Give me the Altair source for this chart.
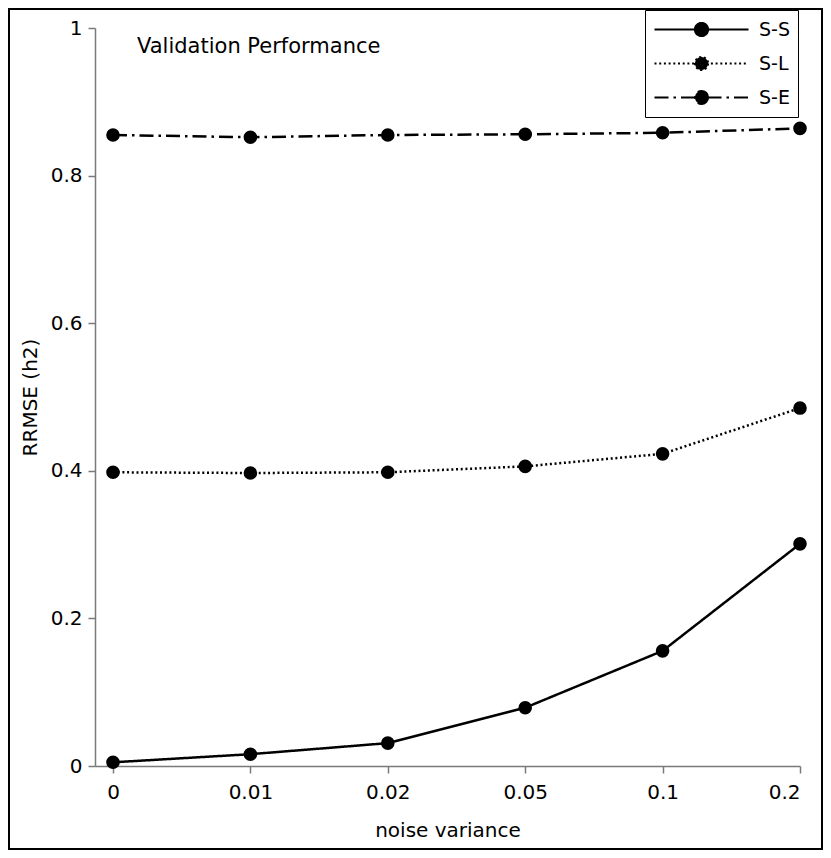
import json
import altair as alt
import pandas as pd

# ---- data ----
X_LABELS = ["0", "0.01", "0.02", "0.05", "0.1", "0.2"]
SERIES = ["S-S", "S-L", "S-E"]
SS = [0.005, 0.016, 0.031, 0.079, 0.156, 0.301]
SL = [0.398, 0.397, 0.398, 0.406, 0.423, 0.485]
SE = [0.855, 0.852, 0.855, 0.856, 0.858, 0.864]
Y_TICKS = [0, 0.2, 0.4, 0.6, 0.8, 1]
TITLE = "Validation Performance"
X_TITLE = "noise variance"
Y_TITLE = "RRMSE (h2)"

rows = []
for name, vals in zip(SERIES, [SS, SL, SE]):
    for i, (lab, v) in enumerate(zip(X_LABELS, vals)):
        rows.append({"series": name, "idx": i, "label": lab, "value": v})
df = pd.DataFrame(rows)

FONT = "DejaVu Sans"
W, H = 705, 738
AXIS_GRAY = "#7a7a7a"

label_expr = json.dumps(X_LABELS) + "[datum.value]"

x_enc = alt.X(
    "idx:Q",
    scale=alt.Scale(domain=[-0.131, 5], nice=False, zero=False),
    axis=alt.Axis(
        values=list(range(len(X_LABELS))),
        labelExpr=label_expr,
        title=X_TITLE,
        grid=False,
        tickSize=7,
        labelPadding=9,
        titlePadding=18,
    ),
)
y_enc = alt.Y(
    "value:Q",
    scale=alt.Scale(domain=[0, 1], nice=False),
    axis=alt.Axis(
        values=Y_TICKS,
        format="~g",
        title=Y_TITLE,
        grid=False,
        tickSize=7,
        labelPadding=6,
        titlePadding=10,
    ),
)

LEGEND_PATH = "M-4.7,0H4.7M0.65,0A0.65,0.65,0,1,1,-0.65,0A0.65,0.65,0,1,1,0.65,0Z"

dash_scale = alt.Scale(
    domain=SERIES,
    range=[[1, 0], [2, 2.7], [14, 5, 2.5, 5]],
)

lines = alt.Chart(df).mark_line(color="black", strokeWidth=2.5).encode(
    x=x_enc,
    y=y_enc,
    strokeDash=alt.StrokeDash(
        "series:N",
        scale=dash_scale,
        legend=alt.Legend(
            title=None,
            orient="none",
            legendX=550,
            legendY=-18,
            symbolType=LEGEND_PATH,
            symbolSize=400,
            symbolStrokeWidth=2.2,
            symbolStrokeColor="black",
            symbolFillColor="black",
            symbolOffset=37,
            labelOffset=46,
            labelFont=FONT,
            labelFontSize=19,
            labelColor="black",
            rowPadding=11,
            padding=8,
            strokeColor="black",
            fillColor="white",
        ),
    ),
    detail="series:N",
)

points = alt.Chart(df).mark_circle(size=185, color="black", opacity=1).encode(
    x="idx:Q",
    y="value:Q",
)

title_text = alt.Chart(alt.Data(values=[{"t": TITLE}])).mark_text(
    align="left", baseline="middle", fontSize=21, font=FONT, color="black"
).encode(x=alt.value(42), y=alt.value(19), text="t:N")

frame = alt.Chart(alt.Data(values=[{}])).mark_rect(
    fill=None, fillOpacity=0, stroke="black", strokeWidth=2
).encode(x=alt.value(-86), x2=alt.value(727), y=alt.value(-19), y2=alt.value(821))

chart = alt.layer(frame, lines, points, title_text).properties(
    width=W, height=H, padding=0, background="white"
).configure_view(stroke=None).configure_axis(
    domainColor=AXIS_GRAY,
    tickColor=AXIS_GRAY,
    domainWidth=1.5,
    tickWidth=1.5,
    labelFont=FONT,
    labelFontSize=20,
    labelColor="black",
    titleFont=FONT,
    titleFontSize=20,
    titleFontWeight="normal",
    titleColor="black",
)

chart.save("out.html", embed_options={"renderer": "svg", "actions": False})
